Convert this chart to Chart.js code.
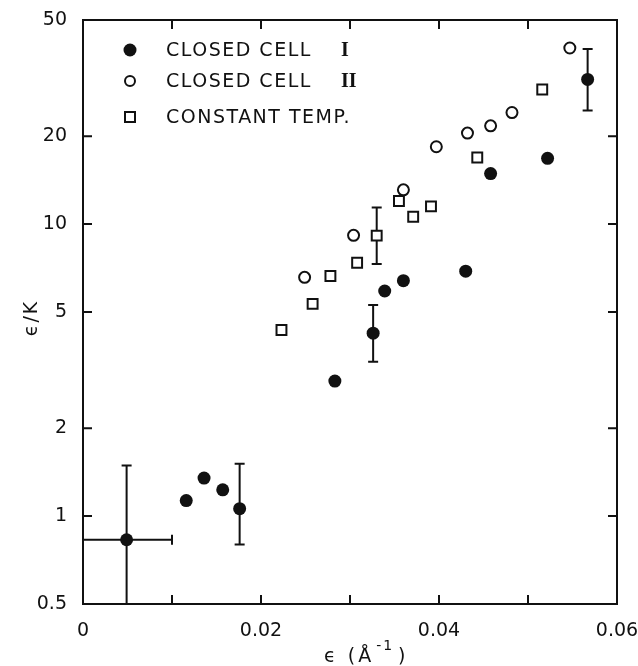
<!DOCTYPE html>
<html>
<head>
<meta charset="utf-8">
<script src="https://cdn.jsdelivr.net/npm/chart.js@4.4.0/dist/chart.umd.min.js"></script>
<style>
  html, body { margin: 0; padding: 0; background: #fff; }
  #chart { display: block; }
</style>
</head>
<body>
<canvas id="chart" width="638" height="666"></canvas>
<script>
// axis ticks
const xTicks = [0, 0.01, 0.02, 0.03, 0.04, 0.05, 0.06];
const xTickLabels = ['0', '', '0.02', '', '0.04', '', '0.06'];
const yTicks = [0.5, 1, 2, 5, 10, 20, 50];
const yTickLabels = ['0.5', '1', '2', '5', '10', '20', '50'];

// closed cell I (filled circles)
const cell1X = [0.0049, 0.0116, 0.0136, 0.0157, 0.0176, 0.0283, 0.0326, 0.0339, 0.0360, 0.0430, 0.0458, 0.0522, 0.0567];
const cell1Y = [0.83, 1.13, 1.35, 1.23, 1.06, 2.9, 4.23, 5.9, 6.4, 6.9, 14.9, 16.8, 31.3];
const cell1YLow = [0.45, null, null, null, 0.8, null, 3.38, null, null, null, null, null, 24.5];
const cell1YHigh = [1.49, null, null, null, 1.51, null, 5.28, null, null, null, null, null, 39.8];
const cell1XLow = [-0.002, null, null, null, null, null, null, null, null, null, null, null, null];
const cell1XHigh = [0.01, null, null, null, null, null, null, null, null, null, null, null, null];

// closed cell II (open circles)
const cell2X = [0.0249, 0.0304, 0.0360, 0.0397, 0.0432, 0.0458, 0.0482, 0.0547];
const cell2Y = [6.57, 9.15, 13.1, 18.4, 20.5, 21.7, 24.1, 40.1];

// constant temperature (open squares)
const tempX = [0.0223, 0.0258, 0.0278, 0.0308, 0.0330, 0.0355, 0.0371, 0.0391, 0.0443, 0.0516];
const tempY = [4.34, 5.33, 6.64, 7.37, 9.13, 12.0, 10.6, 11.5, 16.9, 28.9];
const tempYLow = [null, null, null, null, 7.3, null, null, null, null, null];
const tempYHigh = [null, null, null, null, 11.4, null, null, null, null, null];

const legendLabels = ['CLOSED CELL', 'CLOSED CELL', 'CONSTANT TEMP.'];
const legendNumerals = ['I', 'II', ''];

const ink = '#111';
const tickFont = { family: 'DejaVu Sans', size: 19 };

const toPoints = (xs, ys) => xs.map((x, i) => ({ x: x, y: ys[i] }));

const errorSets = [
  { xs: cell1X, ys: cell1Y, yLow: cell1YLow, yHigh: cell1YHigh, xLow: cell1XLow, xHigh: cell1XHigh },
  { xs: tempX, ys: tempY, yLow: tempYLow, yHigh: tempYHigh }
];

const errorBarPlugin = {
  id: 'errorBars',
  beforeDatasetsDraw(chart) {
    const { ctx, chartArea: a, scales: { x, y } } = chart;
    const cap = 5;
    ctx.save();
    ctx.beginPath();
    ctx.rect(a.left, a.top, a.right - a.left, a.bottom - a.top);
    ctx.clip();
    ctx.strokeStyle = ink;
    ctx.lineWidth = 2;
    errorSets.forEach(set => {
      set.xs.forEach((xv, i) => {
        const px = x.getPixelForValue(xv);
        const py = y.getPixelForValue(set.ys[i]);
        if (set.yLow && set.yLow[i] != null) {
          const lo = y.getPixelForValue(set.yLow[i]);
          const hi = y.getPixelForValue(set.yHigh[i]);
          ctx.beginPath();
          ctx.moveTo(px, lo); ctx.lineTo(px, hi);
          ctx.moveTo(px - cap, lo); ctx.lineTo(px + cap, lo);
          ctx.moveTo(px - cap, hi); ctx.lineTo(px + cap, hi);
          ctx.stroke();
        }
        if (set.xLow && set.xLow[i] != null) {
          const l = x.getPixelForValue(set.xLow[i]);
          const r = x.getPixelForValue(set.xHigh[i]);
          ctx.beginPath();
          ctx.moveTo(l, py); ctx.lineTo(r, py);
          ctx.moveTo(l, py - cap); ctx.lineTo(l, py + cap);
          ctx.moveTo(r, py - cap); ctx.lineTo(r, py + cap);
          ctx.stroke();
        }
      });
    });
    ctx.restore();
  }
};

const framePlugin = {
  id: 'frame',
  afterDatasetsDraw(chart) {
    const { ctx, chartArea: a, scales: { x, y } } = chart;
    const tl = 9;
    ctx.save();
    ctx.strokeStyle = ink;
    ctx.lineWidth = 2;
    ctx.strokeRect(a.left, a.top, a.right - a.left, a.bottom - a.top);
    ctx.beginPath();
    yTicks.forEach(v => {
      const py = y.getPixelForValue(v);
      ctx.moveTo(a.left, py); ctx.lineTo(a.left + tl, py);
      ctx.moveTo(a.right, py); ctx.lineTo(a.right - tl, py);
    });
    xTicks.forEach(v => {
      const px = x.getPixelForValue(v);
      ctx.moveTo(px, a.bottom); ctx.lineTo(px, a.bottom - tl);
      ctx.moveTo(px, a.top); ctx.lineTo(px, a.top + tl);
    });
    ctx.stroke();

    // legend
    const rows = [50, 81, 117];
    const sx = 130, tx = 166, nx = 341;
    ctx.fillStyle = ink;
    ctx.textBaseline = 'middle';
    rows.forEach((ry, i) => {
      ctx.beginPath();
      if (i === 0) {
        ctx.arc(sx, ry, 6.5, 0, Math.PI * 2);
        ctx.fill();
      } else if (i === 1) {
        ctx.arc(sx, ry, 5, 0, Math.PI * 2);
        ctx.stroke();
      } else {
        ctx.rect(sx - 5, ry - 5, 10, 10);
        ctx.stroke();
      }
      ctx.font = '19px "DejaVu Sans"';
      ctx.letterSpacing = '1.5px';
      ctx.textAlign = 'left';
      ctx.fillText(legendLabels[i], tx, ry + 1);
      if (legendNumerals[i]) {
        ctx.font = 'bold 20px "Liberation Serif"';
        ctx.letterSpacing = '0px';
        ctx.fillText(legendNumerals[i], nx, ry + 1);
      }
    });
    ctx.letterSpacing = '0px';

    // axis titles
    ctx.font = '19px "DejaVu Sans"';
    ctx.textAlign = 'center';
    ctx.save();
    ctx.translate(32, 318);
    ctx.rotate(-Math.PI / 2);
    ctx.letterSpacing = '2px';
    ctx.fillText('\u03f5/K', 0, 0);
    ctx.restore();

    ctx.textAlign = 'left';
    ctx.textBaseline = 'alphabetic';
    ctx.letterSpacing = '3px';
    ctx.fillText('\u03f5 (\u00c5', 324, 662);
    const w1 = ctx.measureText('\u03f5 (\u00c5').width;
    ctx.font = '14px "DejaVu Sans"';
    ctx.letterSpacing = '2px';
    ctx.fillText('-1', 324 + w1 + 2, 650);
    const w2 = ctx.measureText('-1').width;
    ctx.font = '19px "DejaVu Sans"';
    ctx.fillText(')', 324 + w1 + w2 + 6, 662);
    ctx.restore();
  }
};

new Chart(document.getElementById('chart'), {
  type: 'scatter',
  data: {
    datasets: [
      {
        label: 'CLOSED CELL I',
        data: toPoints(cell1X, cell1Y),
        pointStyle: 'circle',
        pointRadius: 6.5,
        backgroundColor: ink,
        borderColor: ink,
        borderWidth: 0
      },
      {
        label: 'CLOSED CELL II',
        data: toPoints(cell2X, cell2Y),
        pointStyle: 'circle',
        pointRadius: 5.5,
        backgroundColor: '#fff',
        borderColor: ink,
        borderWidth: 2
      },
      {
        label: 'CONSTANT TEMP.',
        data: toPoints(tempX, tempY),
        pointStyle: 'rect',
        pointRadius: 7,
        backgroundColor: '#fff',
        borderColor: ink,
        borderWidth: 2
      }
    ]
  },
  options: {
    responsive: false,
    animation: false,
    layout: { padding: { top: 20, right: 21, left: 0, bottom: 0 } },
    plugins: {
      legend: { display: false },
      tooltip: { enabled: false }
    },
    scales: {
      x: {
        type: 'linear',
        min: 0,
        max: 0.06,
        afterBuildTicks: s => { s.ticks = xTicks.map(v => ({ value: v })); },
        afterFit: s => { s.height = 62; s.paddingLeft = 0; s.paddingRight = 0; },
        grid: { display: false },
        border: { display: false },
        ticks: {
          autoSkip: false,
          maxRotation: 0,
          padding: 8,
          color: ink,
          font: tickFont,
          callback: (v, i) => xTickLabels[i]
        }
      },
      y: {
        type: 'logarithmic',
        min: 0.5,
        max: 50,
        afterBuildTicks: s => { s.ticks = yTicks.map(v => ({ value: v })); },
        afterFit: s => { s.width = 83; s.paddingTop = 0; s.paddingBottom = 0; },
        grid: { display: false },
        border: { display: false },
        ticks: {
          autoSkip: false,
          padding: 8,
          color: ink,
          font: tickFont,
          callback: (v, i) => yTickLabels[i]
        }
      }
    }
  },
  plugins: [errorBarPlugin, framePlugin]
});
</script>
</body>
</html>
